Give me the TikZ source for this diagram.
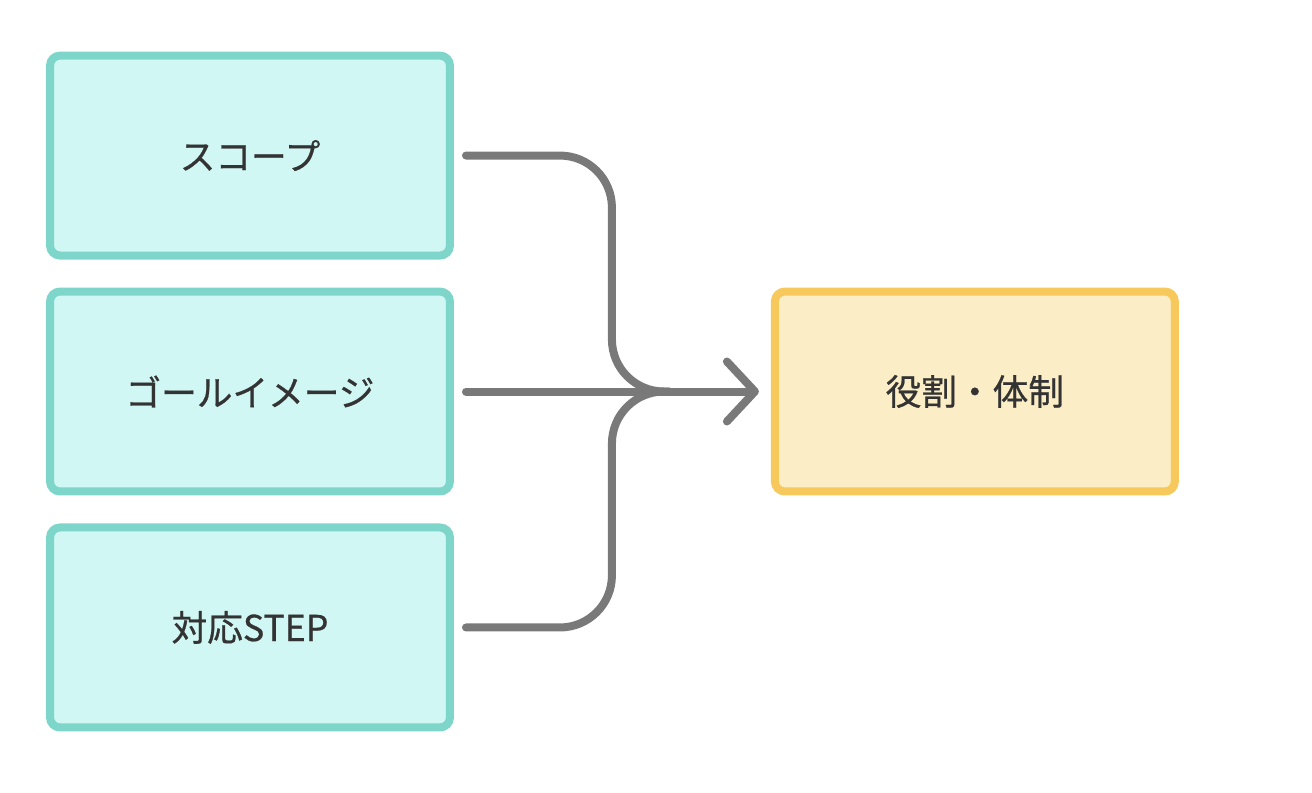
\documentclass[tikz,border=0pt]{standalone}
\usepackage{fontspec}
\setmainfont{Noto Sans CJK JP}[FakeBold=0.7]
\usepackage{tikz}
\usetikzlibrary{positioning,arrows.meta}
\definecolor{tealline}{HTML}{7ED6CB}
\definecolor{tealfill}{HTML}{D0F7F3}
\definecolor{goldline}{HTML}{F7C95C}
\definecolor{goldfill}{HTML}{FBEDC5}
\definecolor{flowgray}{HTML}{797979}
\definecolor{textdark}{HTML}{333333}

\begin{document}
\begin{tikzpicture}[
  x=0.02cm, y=-0.02cm,
  font=\fontsize{20.3}{24}\selectfont,
  % --- estilos de los nodos ---
  source/.style={
    rectangle,
    draw=tealline,
    fill=tealfill,
    line width=0.16cm,
    rounded corners=0.2cm,
    text=textdark,
    minimum width=8cm,
    minimum height=4cm
  },
  target/.style={
    source,
    draw=goldline,
    fill=goldfill
  },
  flow/.style={
    line width=0.16cm,
    draw=flowgray,
    line cap=round,
    line join=round
  },
  tip/.style={
    -{Straight Barb[length=0.56cm, width=1.2cm, round]}
  }
]

\useasboundingbox (0,0) rectangle (1312,792);

% ---- entradas ----
\node[source] (goal) at (250,391.5) {ゴールイメージ};
\node[source, above=0.56cm of goal] (scope) {スコープ};
\node[source, below=0.56cm of goal] (step) {対応STEP};

% ---- resultado ----
\node[target, right=6.34cm of goal] (role) {役割・体制};

% ---- conexiones ----
\draw[flow, rounded corners=1.04cm] ([xshift=0.24cm]scope.east) -| ([xshift=3.16cm]goal.east) -- ([xshift=4.3cm]goal.east);
\draw[flow, rounded corners=1.04cm] ([xshift=0.24cm]step.east) -| ([xshift=3.16cm]goal.east) -- ([xshift=4.3cm]goal.east);
\draw[flow, tip] ([xshift=0.24cm]goal.east) -- ([xshift=-0.24cm]role.west);

\end{tikzpicture}
\end{document}
